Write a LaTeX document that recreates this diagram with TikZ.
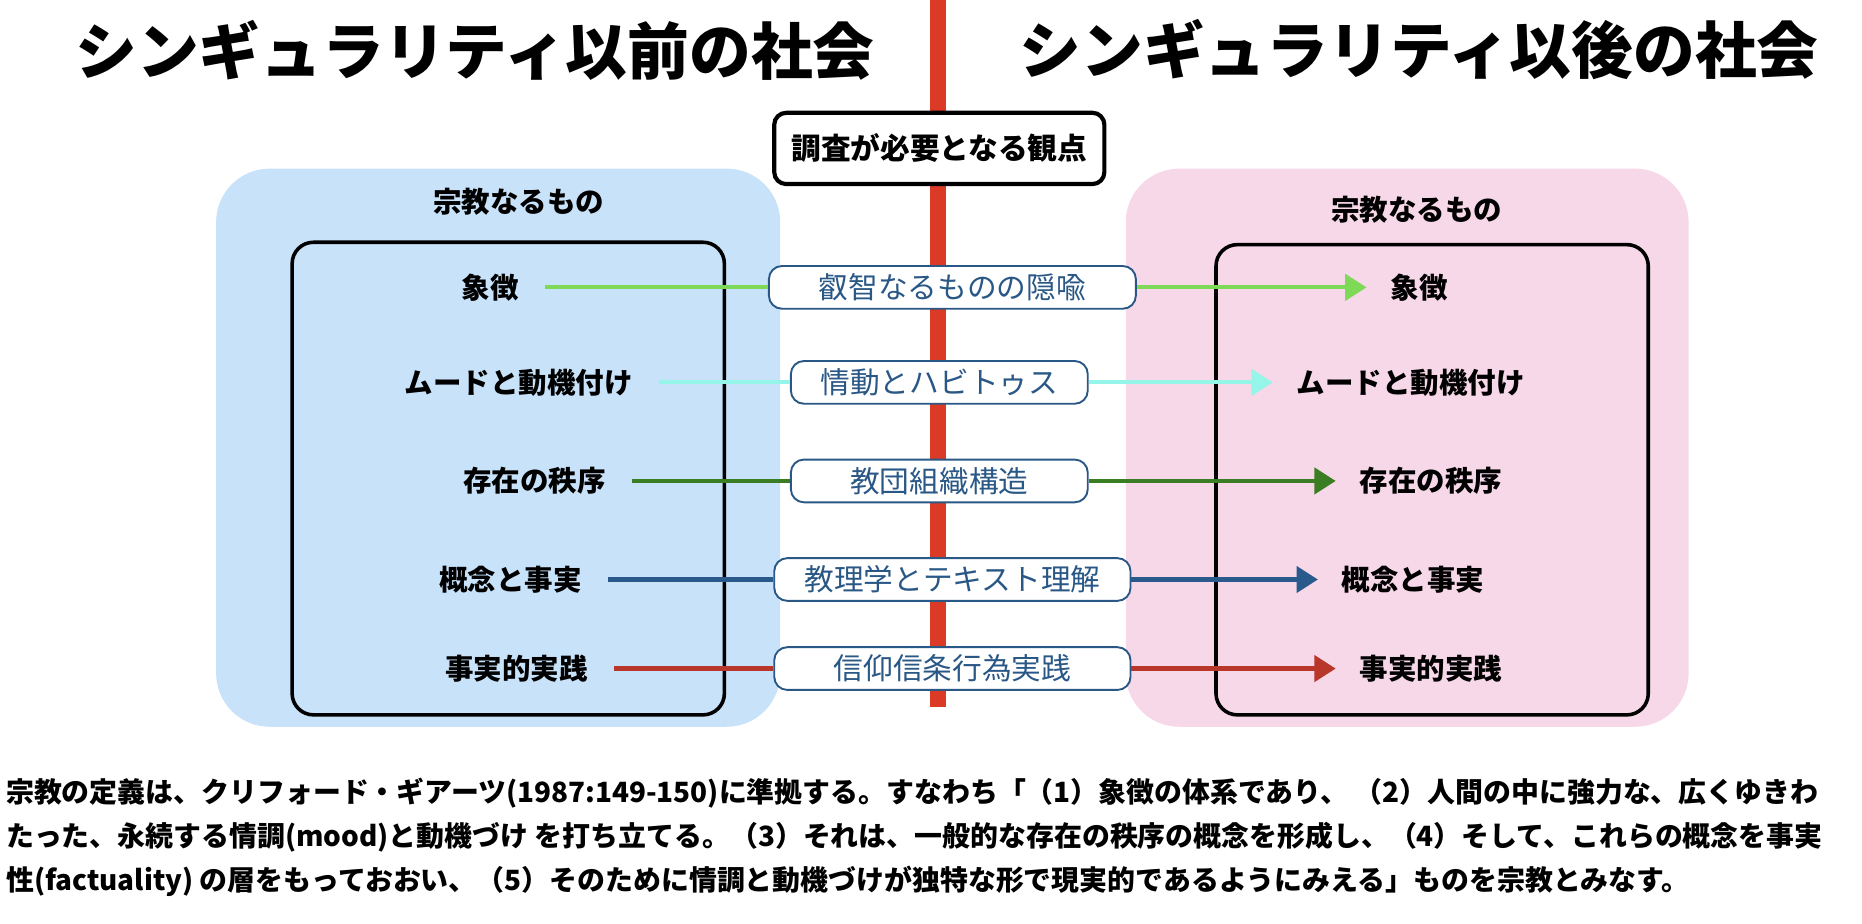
\documentclass[tikz,border=0pt]{standalone}
\usepackage{fontspec}
\setmainfont{Noto Sans CJK JP}
\usepackage[HTML]{xcolor}
\usepackage{tikz}
\usetikzlibrary{positioning, arrows.meta}

\definecolor{bluebg}{HTML}{C8E2FA}
\definecolor{pinkbg}{HTML}{F7D8E9}
\definecolor{redline}{HTML}{DB3B26}
\definecolor{midblue}{HTML}{2A5886}
\definecolor{symgreen}{HTML}{7ED957}
\definecolor{moodcyan}{HTML}{95F5E8}
\definecolor{orddark}{HTML}{3A7D22}
\definecolor{conblue}{HTML}{2A5A8C}
\definecolor{pracred}{HTML}{B8362A}

\tikzset{
  title/.style={font=\fontsize{52}{56}\selectfont\bfseries, inner sep=0pt},
  head/.style={font=\fontsize{24}{28}\selectfont\bfseries, inner sep=0pt},
  item/.style={font=\fontsize{24}{28}\selectfont\bfseries, inner sep=0pt},
  midbox/.style={draw=midblue, line width=1.6pt, rounded corners=11pt, fill=white,
    text=midblue, font=\fontsize{25}{29}\selectfont, minimum height=36pt},
  link/.style={line width=3.5pt, shorten <=22pt},
  tip/.style={line width=3.5pt, -{Triangle[length=18pt,width=22pt]}, shorten >=20pt}
}

\begin{document}
\begin{tikzpicture}[x=1pt, y=-1pt]
\useasboundingbox (0,0) rectangle (1568,778);

\path[fill=bluebg, rounded corners=45pt] (182,142) rectangle (657,612);
\path[fill=pinkbg, rounded corners=45pt] (948,142) rectangle (1422,612);
\draw[redline, line width=13pt] (790,0) -- (790,595);

\node[title] (preTitle)  at (400,42)  {シンギュラリティ以前の社会};
\node[title] (postTitle) at (1195,42) {シンギュラリティ以後の社会};

\node[draw, line width=3.5pt, rounded corners=10pt, fill=white, minimum width=278pt,
  minimum height=60pt, font=\fontsize{25}{29}\selectfont\bfseries] (view) at (791,125) {調査が必要となる観点};

\node[head] (lhead) at (437,170) {宗教なるもの};
\node[head] (rhead) at (1193,177) {宗教なるもの};

\draw[line width=3pt, rounded corners=18pt] (246,204) rectangle (610,602);
\draw[line width=3pt, rounded corners=18pt] (1024,206) rectangle (1388,602);

\node[item] (l1) at (413,242) {象徴};
\node[item] (l2) at (437,322) {ムードと動機付け};
\node[item] (l3) at (450,405) {存在の秩序};
\node[item] (l4) at (430,488) {概念と事実};
\node[item] (l5) at (435,563) {事実的実践};

\node[item] (r1) at (1195,242) {象徴};
\node[item] (r2) at (1188,322) {ムードと動機付け};
\node[item] (r3) at (1205,405) {存在の秩序};
\node[item] (r4) at (1190,488) {概念と事実};
\node[item] (r5) at (1205,563) {事実的実践};

\node[midbox, minimum width=309pt] (m1) at (802,242) {叡智なるものの隠喩};
\node[midbox, minimum width=250pt] (m2) at (791,322) {情動とハビトゥス};
\node[midbox, minimum width=250pt] (m3) at (791,405) {教団組織構造};
\node[midbox, minimum width=300pt] (m4) at (802,488) {教理学とテキスト理解};
\node[midbox, minimum width=300pt] (m5) at (802,563) {信仰信条行為実践};

\draw[link, symgreen] (l1) -- (m1);
\draw[tip, symgreen] (m1) -- (r1);
\draw[link, moodcyan] (l2) -- (m2);
\draw[tip, moodcyan] (m2) -- (r2);
\draw[link, orddark] (l3) -- (m3);
\draw[tip, orddark] (m3) -- (r3);
\draw[link, conblue] (l4) -- (m4);
\draw[tip, conblue] (m4) -- (r4);
\draw[link, pracred] (l5) -- (m5);
\draw[tip, pracred] (m5) -- (r5);

\node[anchor=north west, align=left, inner sep=0pt, font=\fontsize{23.5}{37}\selectfont\bfseries] (note) at (5,655) {%
宗教の定義は、クリフォード・ギアーツ(1987:149-150)に準拠する。すなわち「（1）象徴の体系であり、 （2）人間の中に強力な、広くゆきわ\\%
たった、永続する情調(mood)と動機づけ を打ち立てる。（3）それは、一般的な存在の秩序の概念を形成し、（4）そして、これらの概念を事実\\%
性(factuality) の層をもっておおい、（5）そのために情調と動機づけが独特な形で現実的であるようにみえる」ものを宗教とみなす。};
\end{tikzpicture}
\end{document}
